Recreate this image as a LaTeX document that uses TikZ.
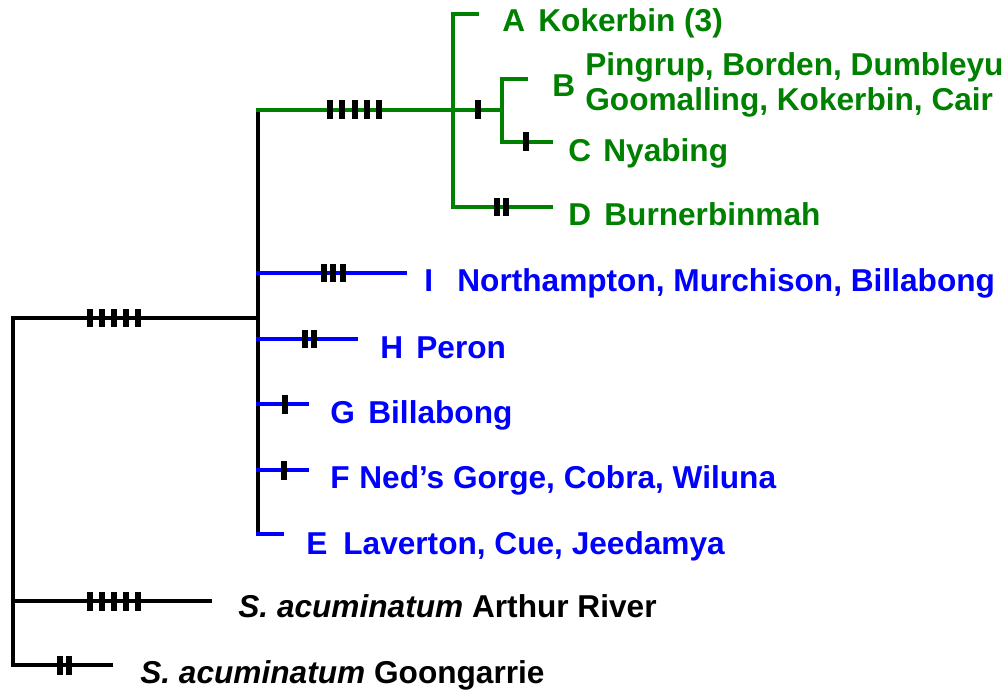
\documentclass[tikz,border=0pt]{standalone}
\usepackage{fontspec}
\setmainfont{Liberation Sans}
\usetikzlibrary{positioning}
\definecolor{cladegreen}{HTML}{008000}
\definecolor{cladeblue}{HTML}{0000FF}
\begin{document}
\begin{tikzpicture}[x=0.02cm,y=-0.02cm,
  branch/.style={line width=2.1pt,line cap=rect},
  hashmark/.style={fill=black,inner sep=0pt,minimum width=0.12cm,minimum height=0.38cm},
  taxon/.style={font=\fontsize{18}{20}\selectfont\bfseries,anchor=base west,inner sep=0pt}]

  \useasboundingbox (0,0) rectangle (1003,692);

  % ---- Junctions ---------------------------------------------
  \coordinate (rootTop) at (13,318);
  \coordinate (rootBot) at (13,665);
  \coordinate (inTop) at (258,110);
  \coordinate (inBot) at (258,534);
  \coordinate (inJoin) at (258,318);
  \coordinate (grnJoin) at (453,110);
  \coordinate (grnTop) at (453,14);
  \coordinate (grnBot) at (453,207);
  \coordinate (bcJoin) at (502,110);
  \coordinate (bcTop) at (502,79);
  \coordinate (bcBot) at (502,142);

  % Tip ends
  \coordinate (tipA) at (477,14);
  \coordinate (tipB) at (526,79);
  \coordinate (tipC) at (551,142);
  \coordinate (tipD) at (551,207);
  \coordinate (tipI) at (405,273);
  \coordinate (tipH) at (356,339);
  \coordinate (tipG) at (307,404);
  \coordinate (tipF) at (307,470);
  \coordinate (tipE) at (282,534);
  \coordinate (tipAR) at (210,601);
  \coordinate (tipGG) at (111,665);

  % ---- Outgroups and root (black) ----------------------------
  \draw[branch] (rootTop) -- (rootBot);
  \draw[branch] (rootTop) -- (inJoin);
  \draw[branch] (rootBot |- tipAR) -- (tipAR);
  \draw[branch] (rootBot) -- (tipGG);
  \draw[branch] (inTop) -- (inBot);

  % ---- Green clade -------------------------------------------
  \draw[branch,cladegreen] (inTop) -- (bcJoin);
  \draw[branch,cladegreen] (tipA) -| (grnTop) -- (grnBot) -- (tipD);
  \draw[branch,cladegreen] (tipB) -| (bcTop) -- (bcBot) -- (tipC);

  % ---- Blue clade --------------------------------------------
  \draw[branch,cladeblue] (inTop |- tipI) -- (tipI);
  \draw[branch,cladeblue] (inTop |- tipH) -- (tipH);
  \draw[branch,cladeblue] (inTop |- tipG) -- (tipG);
  \draw[branch,cladeblue] (inTop |- tipF) -- (tipF);
  \draw[branch,cladeblue] (inBot) -- (tipE);

  % ---- Character changes -------------------------------------
  \foreach \x in {89.5,101.5,113.5,125.5,137.5} {
    \node[hashmark] at (\x,318) {};
    \node[hashmark] at (\x,601) {};
  }
  \foreach \x in {330,342.25,354.5,366.75,379} \node[hashmark] at (\x,110) {};
  \foreach \x in {323.5,333.25,343} \node[hashmark] at (\x,273) {};
  \foreach \x in {304.5,314} \node[hashmark] at (\x,339) {};
  \foreach \x in {497,505.5} \node[hashmark] at (\x,207) {};
  \foreach \x in {60,69} \node[hashmark] at (\x,665) {};
  \node[hashmark] at (477.5,110) {};
  \node[hashmark] at (526,142) {};
  \node[hashmark] at (284.5,404) {};
  \node[hashmark] at (284,470) {};

  % ---- Taxon labels ------------------------------------------
  \node[taxon,text=cladegreen] (letA) at (502,32) {A};
  \node[taxon,text=cladegreen] (popA) at (538,32) {Kokerbin (3)};
  \node[taxon,text=cladegreen] (letB) at (552,97) {B};
  \node[taxon,text=cladegreen,anchor=west,align=left] (popB) at (585,85)
    {Pingrup, Borden, Dumbleyu\\Goomalling, Kokerbin, Cair};
  \node[taxon,text=cladegreen] (letC) at (568,162) {C};
  \node[taxon,text=cladegreen] (popC) at (603,162) {Nyabing};
  \node[taxon,text=cladegreen] (letD) at (568,226) {D};
  \node[taxon,text=cladegreen] (popD) at (604,226) {Burnerbinmah};

  \node[taxon,text=cladeblue] (letI) at (424,292) {I};
  \node[taxon,text=cladeblue] (popI) at (457,292) {Northampton, Murchison, Billabong};
  \node[taxon,text=cladeblue] (letH) at (380,358) {H};
  \node[taxon,text=cladeblue] (popH) at (416,358) {Peron};
  \node[taxon,text=cladeblue] (letG) at (330,423) {G};
  \node[taxon,text=cladeblue] (popG) at (368,423) {Billabong};
  \node[taxon,text=cladeblue] (letF) at (330,488) {F};
  \node[taxon,text=cladeblue] (popF) at (359,488) {Ned’s Gorge, Cobra, Wiluna};
  \node[taxon,text=cladeblue] (letE) at (306,554) {E};
  \node[taxon,text=cladeblue] (popE) at (343,554) {Laverton, Cue, Jeedamya};

  \node[taxon] (outAR) at (238,617) {\textit{S. acuminatum} Arthur River};
  \node[taxon] (outGG) at (140,683) {\textit{S. acuminatum} Goongarrie};

\end{tikzpicture}
\end{document}
